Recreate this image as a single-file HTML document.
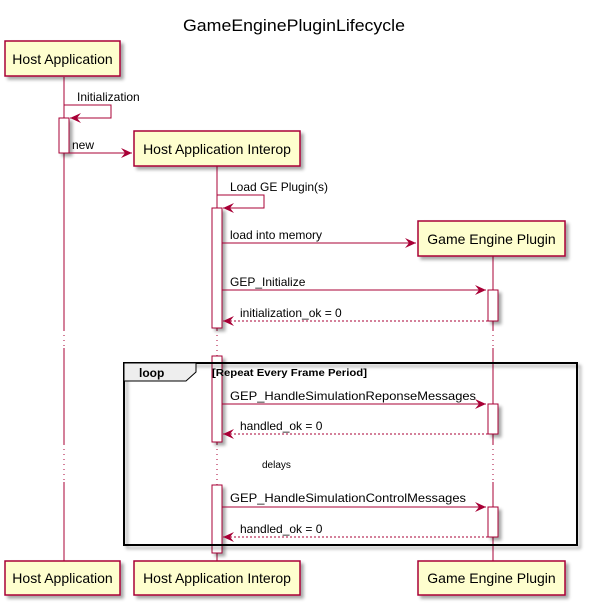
<!DOCTYPE html>
<html><head><meta charset="utf-8"><style>html,body{margin:0;padding:0;background:#fff}svg{display:block}</style></head>
<body>
<svg width="590" height="606" viewBox="0 0 590 606" xmlns="http://www.w3.org/2000/svg" font-family="Liberation Sans, sans-serif">
<defs>
<filter id="sh" x="-10%" y="-10%" width="130%" height="140%"><feGaussianBlur in="SourceAlpha" stdDeviation="1.5"/><feOffset dx="3" dy="3"/><feComponentTransfer><feFuncA type="linear" slope="0.35"/></feComponentTransfer><feMerge><feMergeNode/><feMergeNode in="SourceGraphic"/></feMerge></filter>
<marker id="ar" markerWidth="12" markerHeight="10" refX="11" refY="5" orient="auto" markerUnits="userSpaceOnUse"><path d="M0,0 L11,5 L0,10 L4,5 Z" fill="#A80036"/></marker>
</defs>
<text x="294" y="31" text-anchor="middle" font-size="17" textLength="222" lengthAdjust="spacingAndGlyphs">GameEnginePluginLifecycle</text>

<!-- lifelines -->
<g stroke="#A80036" stroke-width="1">
<line x1="64" y1="77" x2="64" y2="330"/><line x1="64" y1="330" x2="64" y2="348" stroke-dasharray="1,4"/><line x1="64" y1="348" x2="64" y2="444"/><line x1="64" y1="444" x2="64" y2="482" stroke-dasharray="1,4"/><line x1="64" y1="482" x2="64" y2="561"/>
<line x1="217" y1="166" x2="217" y2="330"/><line x1="217" y1="330" x2="217" y2="356" stroke-dasharray="1,4"/><line x1="217" y1="356" x2="217" y2="444"/><line x1="217" y1="444" x2="217" y2="484" stroke-dasharray="1,4"/><line x1="217" y1="484" x2="217" y2="561"/>
<line x1="493" y1="256" x2="493" y2="330"/><line x1="493" y1="330" x2="493" y2="348" stroke-dasharray="1,4"/><line x1="493" y1="348" x2="493" y2="444"/><line x1="493" y1="444" x2="493" y2="482" stroke-dasharray="1,4"/><line x1="493" y1="482" x2="493" y2="561"/>
</g>

<!-- activations -->
<g fill="#fff" stroke="#A80036" stroke-width="1" filter="url(#sh)">
<rect x="59" y="118" width="10" height="35"/>
<rect x="212" y="208" width="10" height="120"/>
<rect x="212" y="356" width="10" height="86"/>
<rect x="212" y="485" width="10" height="68"/>
<rect x="488" y="290" width="10" height="31"/>
<rect x="488" y="404" width="10" height="30"/>
<rect x="488" y="507" width="10" height="30"/>
</g>

<!-- loop frame -->
<rect x="124" y="363" width="453" height="182" fill="none" stroke="#000" stroke-width="2" filter="url(#sh)"/>
<path d="M124,363 L196,363 L196,372 L186,381 L124,381 Z" fill="#EEEEEE" stroke="#000" stroke-width="1"/>
<text x="139" y="377" font-size="12" font-weight="bold">loop</text>
<text x="212" y="376" font-size="10.5" font-weight="bold" textLength="155" lengthAdjust="spacingAndGlyphs">[Repeat Every Frame Period]</text>

<!-- participant boxes -->
<g fill="#FEFECE" stroke="#A80036" stroke-width="1.5" filter="url(#sh)">
<rect x="5" y="41" width="115" height="35"/>
<rect x="134" y="131" width="166" height="35"/>
<rect x="418" y="221" width="147" height="35"/>
<rect x="5" y="561" width="115" height="34"/>
<rect x="134" y="561" width="166" height="34"/>
<rect x="418" y="561" width="147" height="34"/>
</g>
<g font-size="14" text-anchor="middle">
<text x="62.5" y="64">Host Application</text>
<text x="217" y="154">Host Application Interop</text>
<text x="491.5" y="244">Game Engine Plugin</text>
<text x="62.5" y="583">Host Application</text>
<text x="217" y="583">Host Application Interop</text>
<text x="491.5" y="583">Game Engine Plugin</text>
</g>

<!-- messages -->
<g stroke="#A80036" fill="none" stroke-width="1">
<polyline points="64,105 111,105 111,118 70,118" marker-end="url(#ar)"/>
<line x1="69" y1="153" x2="132" y2="153" marker-end="url(#ar)"/>
<polyline points="217,195 264,195 264,208 223,208" marker-end="url(#ar)"/>
<line x1="222" y1="243" x2="416" y2="243" marker-end="url(#ar)"/>
<line x1="222" y1="290" x2="486" y2="290" marker-end="url(#ar)"/>
<line x1="488" y1="321" x2="223" y2="321" stroke-dasharray="2,2" marker-end="url(#ar)"/>
<line x1="222" y1="404" x2="486" y2="404" marker-end="url(#ar)"/>
<line x1="488" y1="434" x2="223" y2="434" stroke-dasharray="2,2" marker-end="url(#ar)"/>
<line x1="222" y1="507" x2="486" y2="507" marker-end="url(#ar)"/>
<line x1="488" y1="537" x2="223" y2="537" stroke-dasharray="2,2" marker-end="url(#ar)"/>
</g>
<g font-size="12" fill="#000">
<text x="77" y="101">Initialization</text>
<text x="72" y="149">new</text>
<text x="230" y="191">Load GE Plugin(s)</text>
<text x="230" y="239">load into memory</text>
<text x="230" y="286">GEP_Initialize</text>
<text x="240" y="317">initialization_ok = 0</text>
<text x="230" y="400" textLength="246" lengthAdjust="spacingAndGlyphs">GEP_HandleSimulationReponseMessages</text>
<text x="240" y="430">handled_ok = 0</text>
<text x="230" y="502" textLength="236" lengthAdjust="spacingAndGlyphs">GEP_HandleSimulationControlMessages</text>
<text x="240" y="533">handled_ok = 0</text>
</g>
<text x="262" y="468" font-size="10">delays</text>
</svg>
</body></html>
